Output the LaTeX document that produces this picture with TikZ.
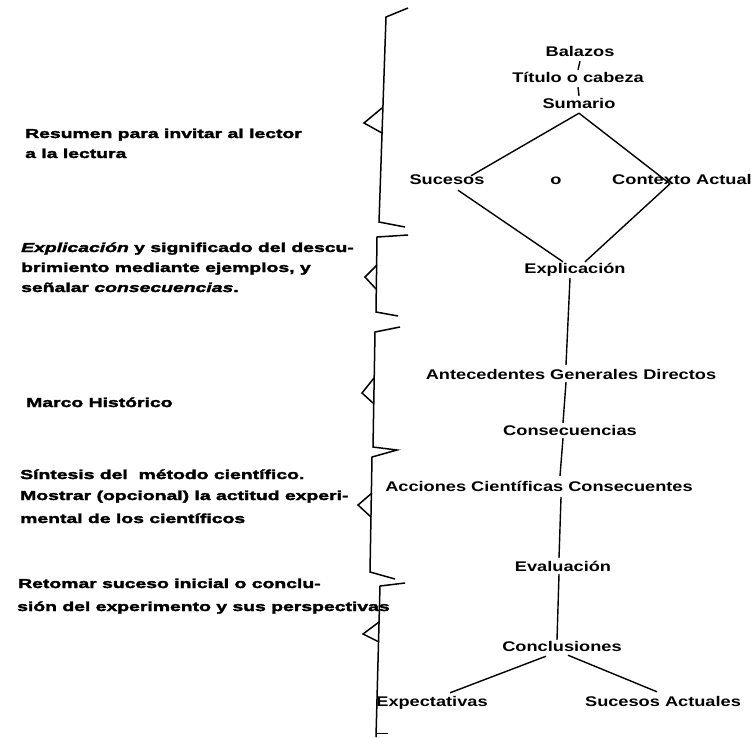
\documentclass[tikz,border=0pt]{standalone}
\usepackage{fontspec}
\newfontfamily\notefont{Liberation Sans}[UprightFont={* Bold},ItalicFont={* Bold Italic},
  FakeStretch=1.49,FakeBold=2.4]
\newfontfamily\stepfont{Liberation Sans}[UprightFont={* Bold},FakeStretch=1.3]
\begin{document}
\begin{tikzpicture}[x=1pt,y=-1pt,
  note/.style={anchor=base west,inner sep=0pt,font=\notefont\fontsize{13}{15}\selectfont},
  stepbox/.style={anchor=base,inner sep=2pt,text height=10pt,text depth=3pt,
    font=\stepfont\fontsize{14}{16}\selectfont},
  link/.style={line width=1.4pt},
  brace/.style={line width=1.5pt,line join=miter}]
\useasboundingbox (0,0) rectangle (754,737);

% ---- scheme of the article (right column)
\node[stepbox] (bal)  at (580,56)  {Balazos};
\node[stepbox] (tit)  at (578,82)  {Título o cabeza};
\node[stepbox] (sum)  at (579,108) {Sumario};
\node[stepbox] (suc)  at (447,184) {Sucesos};
\node[stepbox] (o)    at (556,184) {o};
\node[stepbox] (ctx)  at (682,184) {Contexto Actual};
\node[stepbox] (expl) at (575,273) {Explicación};
\node[stepbox] (ante) at (571,379) {Antecedentes Generales Directos};
\node[stepbox] (cons) at (570,435) {Consecuencias};
\node[stepbox] (acc)  at (539,491) {Acciones Científicas Consecuentes};
\node[stepbox] (eva)  at (563,571) {Evaluación};
\node[stepbox] (conc) at (562,651) {Conclusiones};
\node[stepbox] (expc) at (432,706) {Expectativas};
\node[stepbox] (ssa)  at (663,706) {Sucesos Actuales};

\coordinate (rv) at ([shift={(-12,12)}]ctx.north);

\draw[link] (bal.south) -- (tit.north);
\draw[link] (tit.south) -- (sum.north);
\draw[link] (sum.south) -- ([shift={(24,4)}]suc.north);
\draw[link] (sum.south) -- (rv);
\draw[link] ([shift={(11,1)}]suc.south) -- ([shift={(-12,1)}]expl.north);
\draw[link] (rv) -- ([shift={(10,1)}]expl.north);
\draw[link] ([shift={(-5,0)}]expl.south) -- ([shift={(-5,-2)}]ante.north);
\draw[link] ([shift={(-5,-2)}]ante.south) -- ([shift={(-7,0)}]cons.north);
\draw[link] ([shift={(-7,-2)}]cons.south) -- ([shift={(21,-3)}]acc.north);
\draw[link] ([shift={(22,1)}]acc.south) -- ([shift={(-4,-1)}]eva.north);
\draw[link] ([shift={(-4,-2)}]eva.south) -- ([shift={(-5,1)}]conc.north);
\draw[link] ([shift={(-16,0)}]conc.south) -- ([shift={(18,-1)}]expc.north);
\draw[link] ([shift={(6,-1)}]conc.south) -- ([shift={(-6,-2)}]ssa.north);

% ---- brackets with their pointers
\draw[brace] (408,8) -- (386,17) -- (379,222) -- (405,227);
\draw[brace] (382,108) -- (364,123) -- (382,133);
\draw[brace] (408,235) -- (377,237) -- (376,312) -- (398,316);
\draw[brace] (377,265) -- (365,277) -- (376,289);
\draw[brace] (400,327) -- (375,332) -- (373,447) -- (397,450) -- (372,457) -- (370,572) -- (395,579);
\draw[brace] (374,378) -- (362,393) -- (373,403);
\draw[brace] (372,493) -- (358,505) -- (371,517);
\draw[brace] (405,583) -- (380,586) -- (376,737);
\draw[brace] (379,622) -- (363,634) -- (379,642);
\draw[line width=1pt] (377,733) -- (388,733);

% ---- notes (left column)
\node[note] (r1) at (25,138) {Resumen para invitar al lector};
\node[note] (r2) at (25,158) {a la lectura};
\node[note] (e1) at (21,252) {\itshape Explicación\upshape{} y significado del descu-};
\node[note] (e2) at (21,272) {brimiento mediante ejemplos, y};
\node[note] (e3) at (21,292) {señalar \itshape consecuencias\upshape .};
\node[note] (m1) at (26,407) {Marco Histórico};
\node[note] (s1) at (20,479) {Síntesis del~ método científico.};
\node[note] (s2) at (20,500) {Mostrar (opcional) la actitud experi-};
\node[note] (s3) at (20,523) {mental de los científicos};
\node[note] (t1) at (18,588) {Retomar suceso inicial o conclu-};
\node[note] (t2) at (17,611) {sión del experimento y sus perspectivas};
\end{tikzpicture}
\end{document}
